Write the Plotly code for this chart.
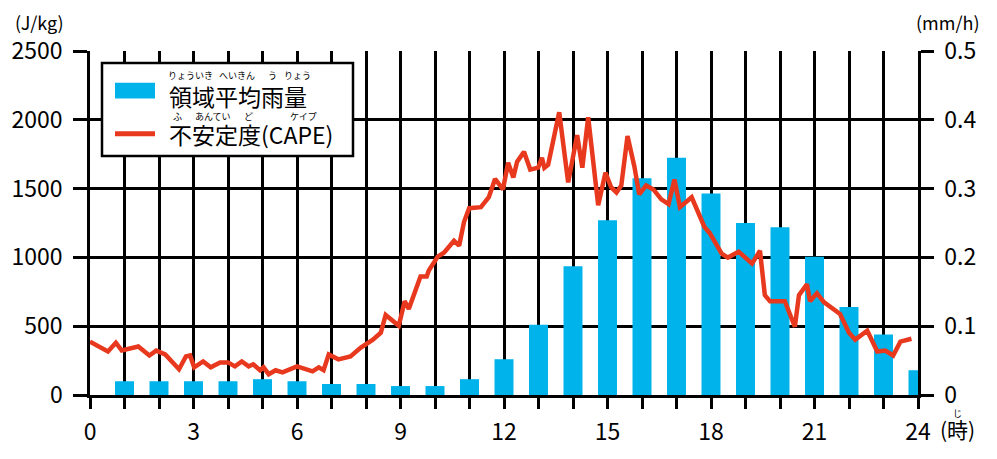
import plotly.graph_objects as go

# ---------------- data ----------------
rain_hours = list(range(1, 25))
rain_mmh = [0.020, 0.020, 0.020, 0.020, 0.023, 0.020, 0.016, 0.016, 0.013, 0.013,
            0.023, 0.052, 0.102, 0.187, 0.254, 0.315, 0.345, 0.293, 0.250, 0.244,
            0.201, 0.128, 0.088, 0.036]

cape_t = [0.0, 0.52, 0.75, 0.92, 1.4, 1.72, 1.92, 2.18, 2.58, 2.78, 2.9, 3.02, 3.28, 3.5,
          3.77, 4.0, 4.2, 4.4, 4.6, 4.73, 4.93, 5.03, 5.18, 5.38, 5.58, 6.0, 6.45, 6.63,
          6.77, 6.92, 7.2, 7.55, 7.85, 8.2, 8.43, 8.57, 8.95, 9.12, 9.24, 9.58, 9.76, 9.82,
          10.08, 10.26, 10.55, 10.7, 10.84, 10.99, 11.33, 11.56, 11.74, 11.97, 12.12, 12.27,
          12.38, 12.58, 12.76, 12.99, 13.1, 13.17, 13.28, 13.6, 13.86, 14.12, 14.27, 14.44,
          14.73, 14.94, 15.11, 15.26, 15.4, 15.58, 15.78, 15.92, 16.12, 16.33, 16.56, 16.77,
          16.94, 17.1, 17.44, 17.81, 17.96, 18.31, 18.49, 18.8, 19.19, 19.42, 19.56, 19.71,
          20.14, 20.43, 20.55, 20.78, 20.87, 21.07, 21.27, 21.74, 22.0, 22.18, 22.53, 22.82,
          23.05, 23.28, 23.49, 23.81]
cape_jkg = [388, 316, 380, 323, 352, 287, 323, 295, 187, 280, 287, 201, 244, 201,
            237, 237, 208, 244, 208, 223, 180, 201, 151, 180, 165, 208, 172, 201,
            180, 295, 259, 280, 345, 402, 453, 582, 503, 682, 625, 862, 862, 905,
            1006, 1034, 1121, 1085, 1257, 1358, 1365, 1437, 1570, 1494, 1688, 1580,
            1695, 1767, 1638, 1652, 1724, 1652, 1674, 2055, 1545, 1889, 1652, 2019,
            1379, 1616, 1508, 1472, 1523, 1882, 1659, 1458, 1523, 1494, 1422, 1387,
            1566, 1365, 1437, 1221, 1178, 1027, 999, 1042, 955, 1049, 726, 682,
            682, 496, 726, 805, 682, 740, 675, 589, 453, 402, 467, 316,
            323, 287, 388, 409]

x_tickvals = list(range(0, 25))
x_ticktext = [str(h) if h % 3 == 0 else "" for h in x_tickvals]
left_ticks = [0, 500, 1000, 1500, 2000, 2500]
right_ticks = [0, 0.1, 0.2, 0.3, 0.4, 0.5]
right_ticktext = ["0", "0.1", "0.2", "0.3", "0.4", "0.5"]

name_rain = "領域平均雨量"
name_cape = "不安定度(CAPE)"

# ---------------- layout constants ----------------
W, H = 997, 459
L, R, T, B = 90, 79, 51, 61
PW, PH = W - L - R, H - T - B
FONT = "Noto Sans CJK JP"
BLUE = "#00b4eb"
RED = "#e8391f"


def px(x):
    return (x - L) / PW


def py(y):
    return (H - B - y) / PH


fig = go.Figure()
fig.add_trace(go.Bar(x=rain_hours, y=rain_mmh, yaxis="y", width=0.55,
                     marker=dict(color=BLUE, line=dict(width=0)), name=name_rain))
fig.add_trace(go.Scatter(x=cape_t, y=cape_jkg, yaxis="y2", mode="lines",
                         line=dict(color=RED, width=4.5), name=name_cape))

fig.update_layout(
    width=W, height=H,
    margin=dict(l=L, r=R, t=T, b=B, pad=0),
    paper_bgcolor="white", plot_bgcolor="white",
    showlegend=False,
    font=dict(family=FONT, color="black", size=23),
    xaxis=dict(range=[0, 24], tickvals=x_tickvals, ticktext=x_ticktext,
               showgrid=True, gridcolor="black", gridwidth=2.5,
               ticks="outside", ticklen=11, tickwidth=2.5, tickcolor="black",
               showline=True, linecolor="black", linewidth=2.5,
               zeroline=False, tickfont=dict(size=23, family=FONT),
               ticklabelstandoff=4),
    yaxis=dict(range=[0, 0.5], side="right", tickvals=right_ticks, ticktext=right_ticktext,
               showgrid=False, zeroline=False, ticks="outside", ticklen=13,
               tickwidth=2.5, tickcolor="black", showline=True, linecolor="black",
               linewidth=2.5, tickfont=dict(size=23, family=FONT), ticklabelstandoff=6),
    yaxis2=dict(range=[0, 2500], side="left", overlaying="y", tickvals=left_ticks,
                showgrid=True, gridcolor="black", gridwidth=2.5, zeroline=False,
                ticks="outside", ticklen=14, tickwidth=2.5, tickcolor="black",
                showline=True, linecolor="black", linewidth=2.5,
                tickfont=dict(size=23, family=FONT), ticklabelstandoff=6),
)

shapes = []
annotations = []

# legend box
shapes.append(dict(type="rect", xref="paper", yref="paper", x0=px(102), x1=px(353),
                   y0=py(157), y1=py(63), fillcolor="white",
                   line=dict(color="black", width=2.5), layer="above"))
shapes.append(dict(type="rect", xref="paper", yref="paper", x0=px(115), x1=px(155),
                   y0=py(99), y1=py(83), fillcolor=BLUE, line=dict(width=0), layer="above"))
shapes.append(dict(type="line", xref="paper", yref="paper", x0=px(115), x1=px(155),
                   y0=py(134.5), y1=py(134.5), line=dict(color=RED, width=5), layer="above"))

annotations.append(dict(text=name_rain, xref="paper", yref="paper", x=px(167), y=py(96),
                        xanchor="left", yanchor="middle", showarrow=False,
                        font=dict(size=23, family=FONT)))
annotations.append(dict(text=name_cape, xref="paper", yref="paper", x=px(167), y=py(135),
                        xanchor="left", yanchor="middle", showarrow=False,
                        font=dict(size=23, family=FONT)))

ruby = [("りょういき", 190, 76), ("へいきん", 237, 76), ("う", 272, 76), ("りょう", 297, 76),
        ("ふ", 177, 117), ("あんてい", 213, 117), ("ど", 248, 117), ("ケイプ", 303, 117),
        ("じ", 957, 417)]
for txt, rx, ry in ruby:
    annotations.append(dict(text=txt, xref="paper", yref="paper", x=px(rx), y=py(ry),
                            xanchor="center", yanchor="middle", showarrow=False,
                            font=dict(size=9, family=FONT)))

annotations.append(dict(text="(J/kg)", xref="paper", yref="paper", x=px(39), y=py(22),
                        xanchor="center", yanchor="middle", showarrow=False,
                        font=dict(size=18, family=FONT)))
annotations.append(dict(text="(mm/h)", xref="paper", yref="paper", x=px(948), y=py(22),
                        xanchor="center", yanchor="middle", showarrow=False,
                        font=dict(size=18, family=FONT)))
annotations.append(dict(text="(時)", xref="paper", yref="paper", x=px(957.5), y=py(432),
                        xanchor="center", yanchor="middle", showarrow=False,
                        font=dict(size=21, family=FONT)))

fig.update_layout(shapes=shapes, annotations=annotations)
fig.write_html("out.html")
